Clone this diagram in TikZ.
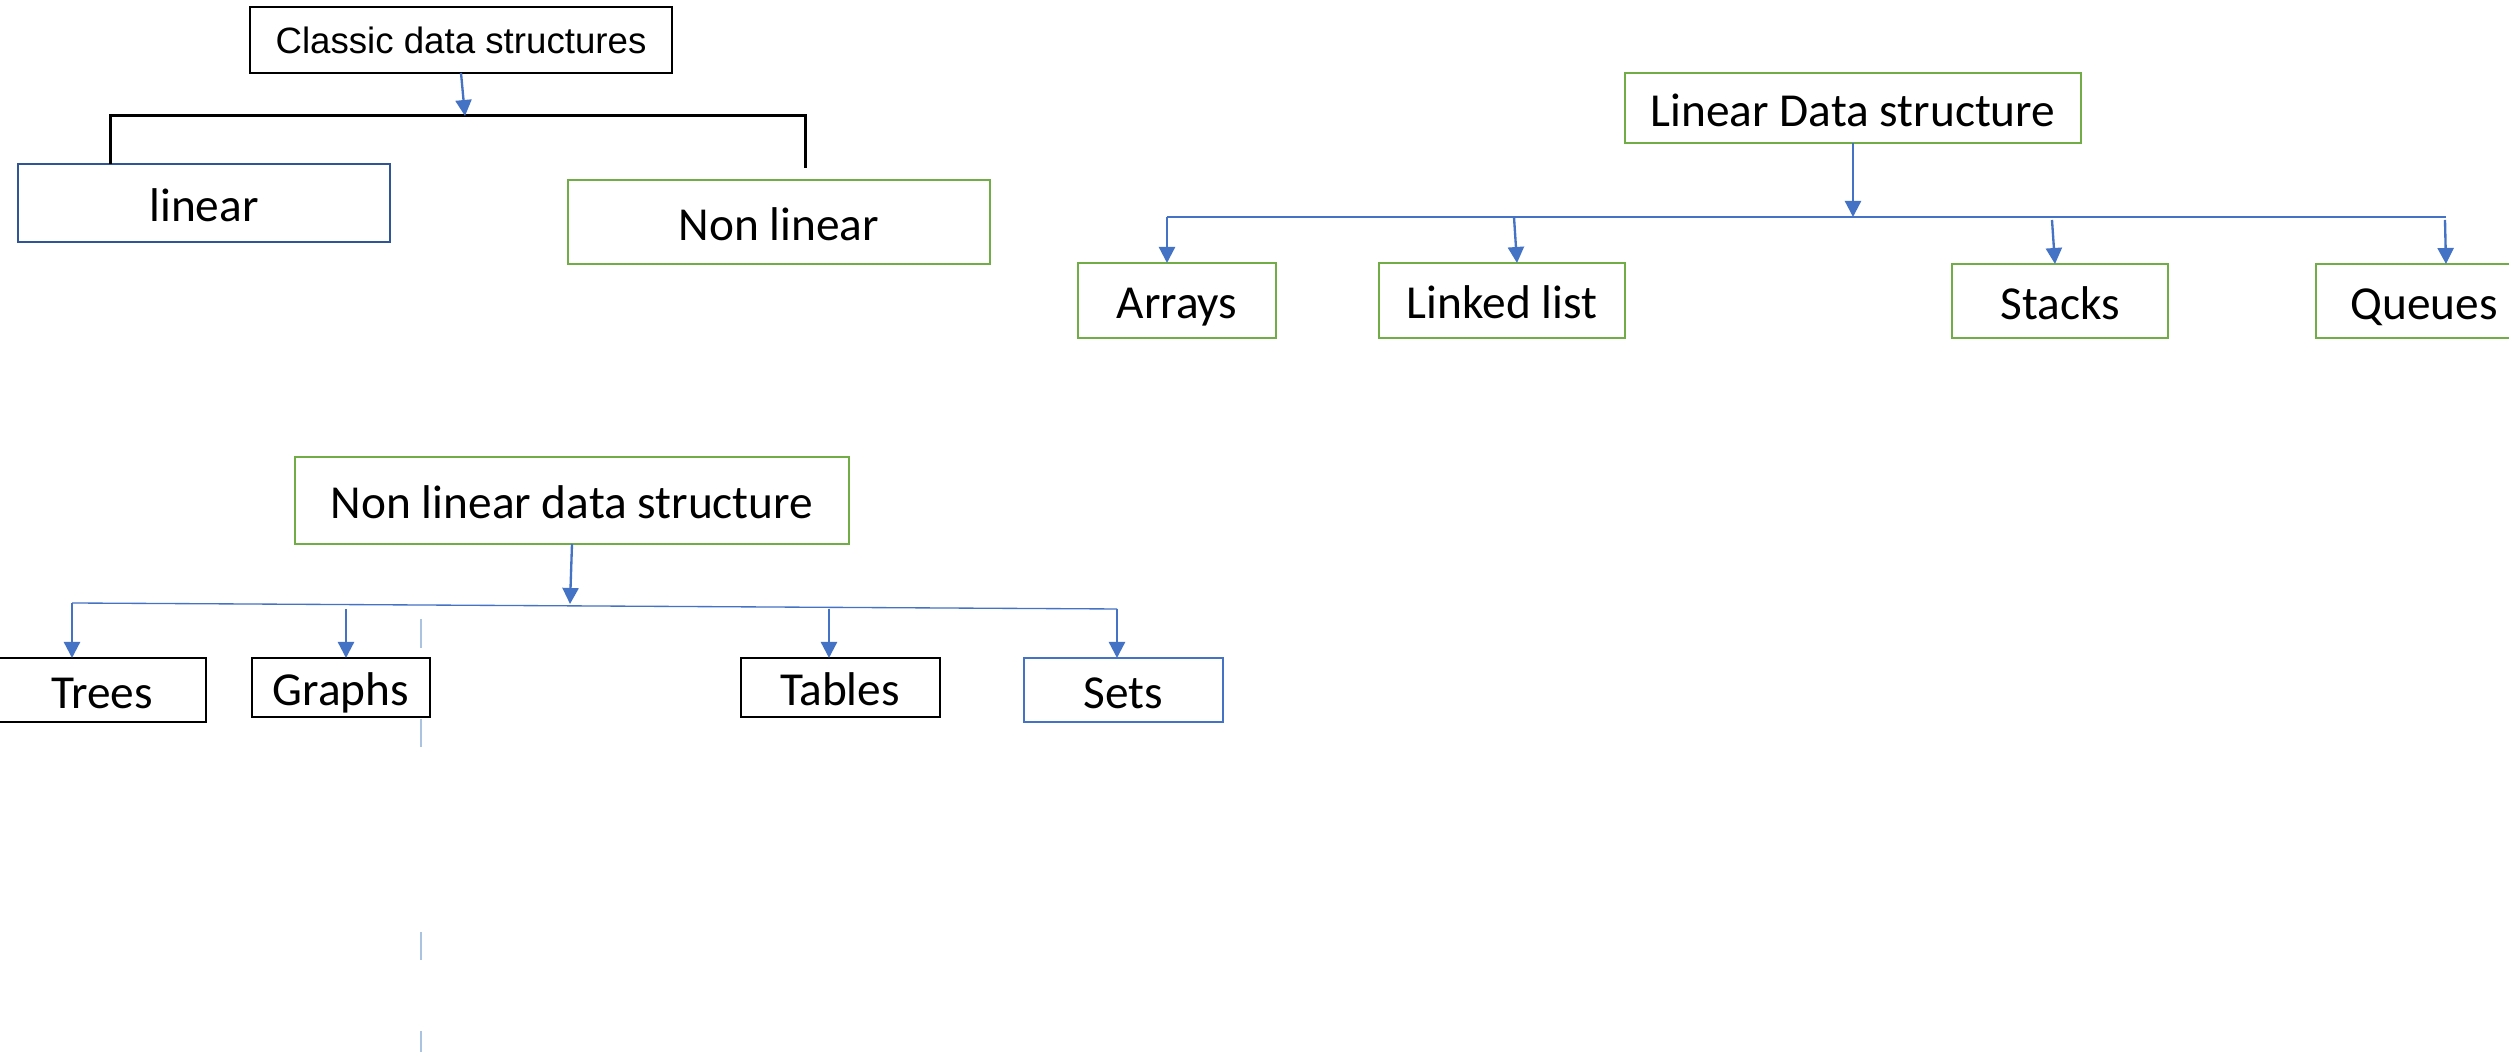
\documentclass[tikz,border=0pt]{standalone}
\usepackage{fontspec}
\setmainfont{Carlito}
\newfontfamily\arialfont{Liberation Sans}
\usetikzlibrary{arrows.meta}
\definecolor{blueA}{HTML}{4472C4}
\definecolor{greenA}{HTML}{70AD47}
\definecolor{navyA}{HTML}{2F5597}
\definecolor{dashblue}{HTML}{A9C3E1}
\begin{document}
\begin{tikzpicture}[x=0.3pt,y=-0.3pt,
  box/.style={draw, line width=0.6pt, inner sep=0pt, outer sep=0pt, fill=white,
    font=\fontsize{14.2pt}{17pt}\selectfont, text height=11.1pt, text depth=0pt},
  sz/.style 2 args={minimum width=#1*0.3pt, minimum height=#2*0.3pt},
  arr/.style={draw=blueA, line width=0.7pt, -{Triangle[length=4.8pt,width=4.8pt]}},
  hline/.style={draw=blueA, line width=0.4pt},
  bracket/.style={draw=black, line width=0.9pt},
  dashseg/.style={draw=dashblue, line width=0.6pt}]
\clip (0,0) rectangle (2509,1052);
\fill[white] (0,0) rectangle (2509,1052);

% top-left tree
\node[box, sz={422}{66}, draw=black, font=\arialfont\fontsize{11pt}{13pt}\selectfont, text height=8.3pt] (classic) at (461,40) {Classic data structures};
\node[box, sz={372}{78}, draw=navyA] (linear) at (204,203) {linear};
\node[box, sz={422}{84}, draw=greenA] (nonlinear) at (779,222) {Non linear};

\coordinate (cb) at (465,116);
\coordinate (bl) at (110,116);
\coordinate (br) at (805,116);
\coordinate (brend) at (805,168);
\draw[bracket] (bl |- linear.north) -- (bl) -- (br) -- (brend);
\draw[arr] (classic.south) -- (cb);

% linear data structure tree
\node[box, sz={456}{70}, draw=greenA] (lds) at (1853,108) {Linear Data structure};
\node[box, sz={198}{75}, draw=greenA] (arrays) at (1177,300.5) {Arrays};
\node[box, sz={246}{75}, draw=greenA] (linked) at (1502,300.5) {Linked list};
\node[box, sz={216}{74}, draw=greenA] (stacks) at (2060,301) {Stacks};
\node[box, sz={216}{74}, draw=greenA] (queues) at (2424,301) {Queues};

\coordinate (lh1) at (1167,217);
\coordinate (lh2) at (2446,217);
\coordinate (lk1) at (1514,217);
\coordinate (lk2) at (1517,0);
\coordinate (st1) at (2052,220);
\coordinate (st2) at (2055,0);
\coordinate (qu1) at (2445,220);
\draw[arr] (lds.south) -- (lds.south |- lh1);
\draw[hline] (lh1) -- (lh2);
\draw[arr] (lh1) -- (lh1 |- arrays.north);
\draw[arr] (lk1) -- (linked.north -| lk2);
\draw[arr] (st1) -- (stacks.north -| st2);
\draw[arr] (qu1) -- (lh2 |- queues.north);

% non linear data structure tree
\node[box, sz={554}{87}, draw=greenA] (nlds) at (572,500.5) {Non linear data structure};
\node[box, sz={208}{64}, draw=black] (trees) at (102,690) {Trees};
\node[box, sz={178}{59}, draw=black] (graphs) at (341,687.5) {Graphs};
\node[box, sz={199}{59}, draw=black] (tables) at (840,687.5) {Tables};
\node[box, sz={199}{64}, draw=blueA] (sets) at (1123,690) {Sets};

\coordinate (nh) at (570,604);
\coordinate (tl) at (72,603);
\coordinate (sr) at (1117,609);
\coordinate (gr1) at (346,609);
\coordinate (tb1) at (829,609);
\draw[arr] (nlds.south) -- (nh);
\draw[hline] (tl) -- (sr);
\draw[arr] (tl) -- (tl |- trees.north);
\draw[arr] (gr1) -- (gr1 |- graphs.north);
\draw[arr] (tb1) -- (tb1 |- tables.north);
\draw[arr] (sr) -- (sr |- sets.north);

% faint dashed guide line
\draw[dashseg] (421,619) -- (421,648);
\draw[dashseg] (421,719) -- (421,747);
\draw[dashseg] (421,932) -- (421,960);
\draw[dashseg] (421,1031) -- (421,1052);
\end{tikzpicture}
\end{document}
